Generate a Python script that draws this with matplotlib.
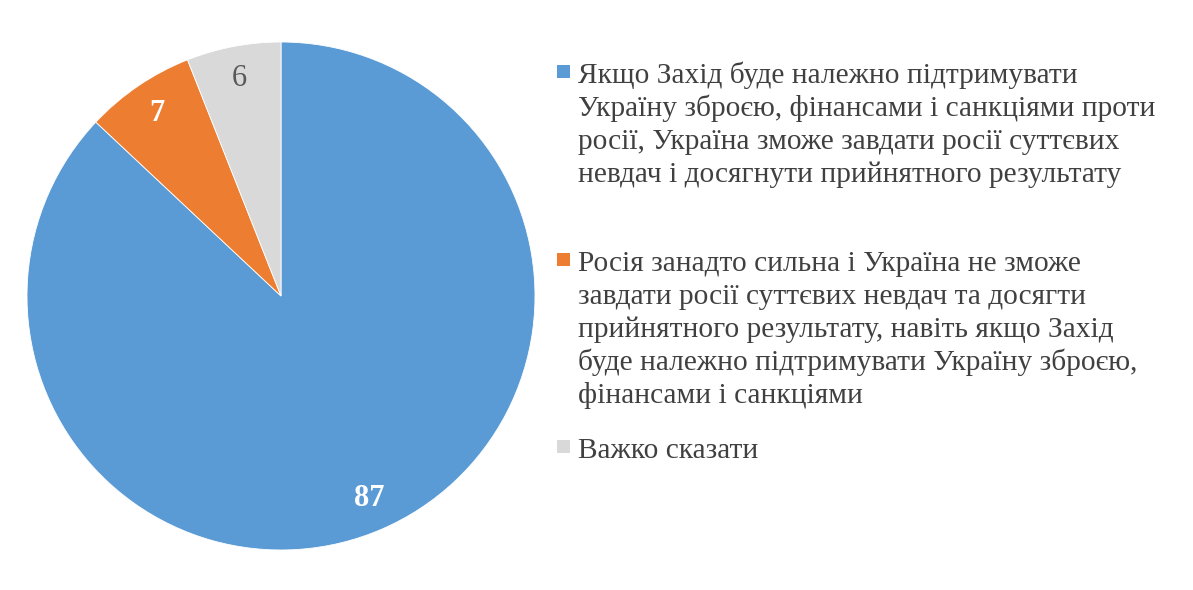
import matplotlib
matplotlib.use("Agg")
from matplotlib import pyplot as plt
from matplotlib.patches import Rectangle

# data
categories = [
    "Якщо Захід буде належно підтримувати\nУкраїну зброєю, фінансами і санкціями проти\nросії, Україна зможе завдати росії суттєвих\nневдач і досягнути прийнятного результату",
    "Росія занадто сильна і Україна не зможе\nзавдати росії суттєвих невдач та досягти\nприйнятного результату, навіть якщо Захід\nбуде належно підтримувати Україну зброєю,\nфінансами і санкціями",
    "Важко сказати",
]
values = [87, 7, 6]
colors = ["#5B9BD5", "#ED7D31", "#D9D9D9"]
label_colors = ["white", "white", "#595959"]
label_weights = ["bold", "bold", "normal"]

W, H = 1193, 590
fig = plt.figure(figsize=(W / 100, H / 100), dpi=100)

# pie: centre (281, 296) px, radius 254 px
cx, cy, r = 281, 296, 254
ax = fig.add_axes([(cx - r) / W, (H - cy - r) / H, 2 * r / W, 2 * r / H])
wedges, texts = ax.pie(values, colors=colors, startangle=90, counterclock=False,
                       labels=[str(v) for v in values], labeldistance=0.87,
                       wedgeprops=dict(edgecolor="white", linewidth=0.6))
for t, c, w in zip(texts, label_colors, label_weights):
    t.set_color(c)
    t.set_fontweight(w)
    t.set_fontsize(22)
    t.set_family("Liberation Serif")
    t.set_ha("center")
    t.set_va("center")
ax.set_xlim(-1, 1)
ax.set_ylim(-1, 1)
ax.set_aspect("equal")
ax.axis("off")

# legend drawn by hand
first_baselines = [83, 271, 458]
line_step = 33
for label, col, y0 in zip(categories, colors, first_baselines):
    fig.patches.append(Rectangle((557 / W, 1 - (y0 - 5) / H), 13 / W, 13 / H,
                                 transform=fig.transFigure, facecolor=col,
                                 edgecolor="none"))
    for i, line in enumerate(label.split("\n")):
        fig.text(578 / W, 1 - (y0 + i * line_step) / H, line,
                 family="Liberation Serif", fontsize=21.2, color="#404040",
                 ha="left", va="baseline")

fig.savefig("out.png", dpi=100, facecolor="white")
